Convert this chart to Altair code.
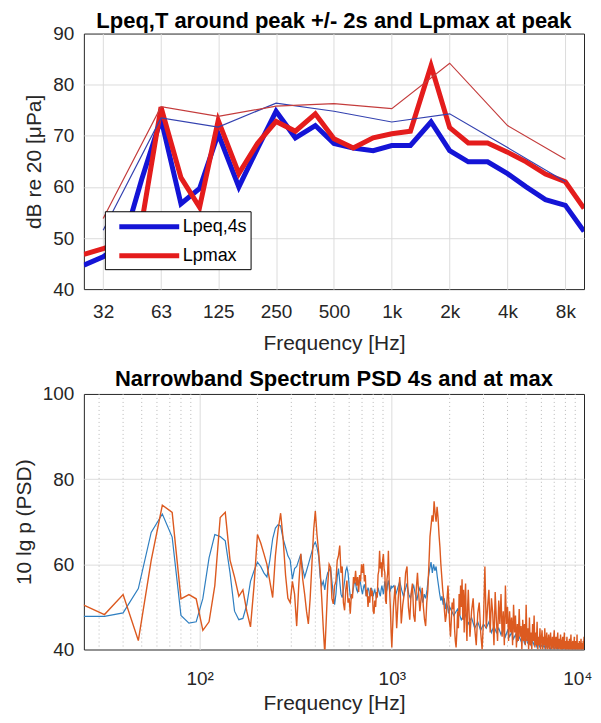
import altair as alt
import pandas as pd

FONT = "Liberation Sans"

# ---------------- top panel data (1/3-octave and octave bands) ----------------
BANDS_13 = [25, 31.5, 40, 50, 63, 80, 100, 125, 160, 200, 250, 315, 400, 500, 630,
            800, 1000, 1250, 1600, 2000, 2500, 3150, 4000, 5000, 6300, 8000, 10000]
LPEQ_13 = [44.7, 46.3, 49.0, 61.5, 73.3, 56.7, 59.7, 70.4, 60.0, 67.5, 74.8, 69.6, 72.0, 68.5,
           67.6, 67.1, 68.1, 68.1, 72.7, 67.1, 64.9, 64.9, 62.6, 60.0, 57.5, 56.4, 51.3]
LPMAX_13 = [46.8, 47.9, 49.5, 53.0, 75.6, 61.8, 56.0, 73.0, 62.6, 68.5, 72.8, 70.9, 74.3, 69.4,
            67.6, 69.6, 70.4, 70.9, 83.7, 71.6, 68.6, 68.6, 66.8, 64.9, 62.5, 61.0, 55.8]
BANDS_OCT = [31.5, 63, 125, 250, 500, 1000, 2000, 4000, 8000]
LPEQ_OCT = [51.5, 73.5, 71.7, 76.4, 74.8, 72.7, 74.3, 67.7, 61.0]
LPMAX_OCT = [53.8, 75.7, 73.8, 75.8, 76.3, 75.3, 84.2, 72.0, 65.4]
TOP_X_TICKS = [31.5, 63, 125, 250, 500, 1000, 2000, 4000, 8000]
TOP_Y_TICKS = [40, 50, 60, 70, 80, 90]
SERIES = ["Lpeq,4s", "Lpmax"]

# ---------------- bottom panel data (narrowband PSD) ----------------
NB_F_LO = list(range(24, 1001, 8))
NB_BLUE_LO = [
    47.8, 47.8, 48.6, 54.3, 67.5, 71.8, 66.4, 48.0, 46.2, 46.5,
    52.0, 61.5, 67.0, 66.5, 65.5, 58.0, 49.0, 47.0, 47.3, 50.5,
    56.0, 58.5, 60.5, 59.5, 58.0, 57.0, 61.0, 66.0, 68.5, 69.3,
    69.0, 66.0, 64.0, 62.0, 61.0, 56.5, 59.0, 59.5, 61.0, 62.4,
    59.0, 57.0, 58.5, 60.0, 61.5, 63.0, 64.5, 65.2, 64.0, 62.0,
    57.0, 55.0, 56.0, 54.0, 56.5, 58.0, 58.5, 59.3, 56.0, 53.0,
    50.5, 53.0, 57.0, 59.0, 56.0, 53.0, 52.2, 54.0, 56.0, 58.5,
    59.3, 58.0, 55.0, 52.5, 52.0, 53.0, 54.5, 56.0, 55.5, 54.0,
    53.5, 55.0, 56.5, 55.5, 54.0, 53.0, 54.5, 55.3, 54.0, 52.5,
    53.5, 54.5, 53.8, 52.5, 53.0, 54.5, 53.5, 52.5, 53.5, 54.0,
    53.0, 52.0, 53.0, 54.5, 53.8, 53.0, 52.5, 54.0, 55.0, 54.0,
    53.0, 54.5, 56.0, 55.0, 53.5, 54.0, 55.5, 56.2, 55.0, 53.5,
    54.0, 55.0, 54.5]
NB_ORANGE_LO = [
    50.8, 48.2, 52.9, 42.1, 60.9, 73.9, 72.2, 51.9, 52.9, 51.9,
    44.5, 46.5, 55.0, 71.0, 72.2, 61.0, 57.0, 52.5, 54.0, 49.0,
    45.3, 55.0, 67.0, 65.0, 62.5, 60.0, 56.0, 52.2, 62.0, 68.0,
    72.0, 66.0, 57.5, 52.0, 51.0, 56.0, 53.0, 45.5, 55.0, 62.5,
    56.5, 53.0, 49.0, 46.0, 52.0, 60.0, 68.0, 72.5, 67.0, 63.0,
    58.5, 52.0, 45.0, 39.0, 47.0, 55.0, 60.0, 59.3, 52.0, 50.7,
    55.0, 56.0, 60.9, 62.0, 64.4, 58.0, 59.5, 51.0, 49.2, 54.0,
    56.2, 51.0, 52.0, 48.4, 53.0, 52.0, 57.0, 55.5, 58.5, 55.0,
    57.0, 53.5, 57.5, 56.0, 60.0, 58.0, 60.1, 56.0, 57.5, 52.5,
    54.0, 50.0, 52.5, 51.0, 54.5, 52.5, 53.8, 49.0, 48.4, 51.5,
    50.0, 53.5, 52.2, 57.5, 58.5, 63.2, 59.0, 60.5, 57.0, 61.0,
    62.4, 59.0, 58.0, 51.5, 50.7, 56.5, 58.0, 63.2, 56.5, 53.0,
    49.2, 44.0, 40.5]

NB_ORANGE_HI_F = list(range(1020, 2501, 20)) + list(range(2550, 10001, 50))
NB_ORANGE_HI = [
    50.0, 55.0, 45.0, 52.0, 57.0, 46.1, 50.5, 53.0, 58.0, 59.5,
    50.0, 47.0, 53.0, 55.5, 48.0, 46.5, 54.0, 58.0, 53.0, 49.0,
    52.0, 54.5, 50.0, 47.0, 45.5, 51.0, 54.0, 60.0, 66.5, 69.0,
    71.5, 70.0, 74.8, 72.0, 70.0, 73.5, 71.0, 67.0, 64.0, 60.0,
    57.0, 54.0, 52.0, 49.0, 46.5, 48.0, 52.0, 55.0, 51.0, 46.0,
    43.0, 47.0, 51.0, 49.5, 52.0, 45.0, 42.0, 40.5, 44.0, 49.0,
    45.0, 53.0, 48.0, 55.0, 50.0, 56.5, 47.0, 54.0, 44.0, 52.0,
    55.5, 46.0, 42.0, 50.0, 54.0,
    43.0, 49.0, 52.0, 45.0, 41.0, 48.5, 51.0, 44.0, 40.0, 47.0,
    59.5, 45.0, 50.0, 54.0, 44.0, 52.0, 48.5, 41.0, 53.5, 47.0,
    42.0, 51.5, 46.0, 53.0, 43.0, 49.0, 41.0, 55.0, 46.0, 50.0,
    42.0, 49.0, 44.0, 47.5, 41.0, 50.5, 44.0, 48.0, 40.5, 46.0,
    42.0, 49.5, 43.0, 45.5, 40.0, 47.0, 42.0, 46.0, 41.0, 50.5,
    42.0, 45.0, 40.0, 47.5, 41.0, 44.0, 40.0, 46.0, 42.0, 48.0,
    40.5, 44.0, 41.0, 46.5, 40.0, 43.0, 41.0, 45.0, 40.0, 42.5,
    44.5, 40.0, 43.0, 41.0, 45.0, 40.0, 42.0, 44.0, 40.0, 41.5,
    43.5, 40.0, 42.0, 44.0, 40.0, 41.0, 43.0, 40.0, 42.5, 44.5,
    40.0, 41.5, 43.0, 40.0, 42.0, 44.0, 40.0, 41.0, 42.5, 40.0,
    43.5, 41.0, 39.0, 42.0, 43.0, 40.0, 41.5, 44.0, 40.0, 42.0,
    39.0, 41.0, 43.0, 40.0, 42.0, 39.0, 40.5, 42.5, 39.0, 41.0,
    43.5, 40.0, 39.0, 41.5, 42.0, 39.0, 40.5, 43.0, 39.0, 41.0,
    42.0, 39.0, 40.5, 43.5, 39.0, 40.0, 41.5, 39.0, 42.0, 40.0,
    39.0, 41.0, 42.5, 39.0, 40.0, 41.5, 39.0, 42.0, 40.0, 43.0]

NB_BLUE_HI_F = list(range(1025, 2001, 25)) + list(range(2100, 10001, 100))
NB_BLUE_HI = [
    55.0, 53.0, 54.5, 56.0, 54.0, 52.5, 54.0, 55.5, 53.0, 52.0,
    54.0, 55.0, 53.0, 51.5, 53.5, 54.5, 52.5, 51.0, 53.0, 52.0,
    54.0, 57.0, 59.0, 60.5, 58.0, 60.0, 58.5, 59.5, 57.0, 55.0,
    53.0, 51.5, 52.5, 50.5, 52.0, 49.5, 51.0, 50.0, 48.5, 50.0,
    48.0, 49.5, 47.0, 48.5, 46.0, 47.5, 45.0, 46.5, 44.5, 46.0,
    45.0, 46.5, 44.0, 45.5, 44.0, 45.0, 43.5, 45.0, 43.0, 44.5,
    43.0, 44.0, 42.5, 43.5, 42.0, 43.0, 42.0, 43.0, 41.5, 42.5,
    41.5, 42.0, 41.0, 42.0, 41.0, 41.5, 40.5, 41.5, 40.5, 41.0,
    40.5, 41.0, 40.0, 41.0, 40.5, 41.0, 40.0, 40.5, 41.0, 40.0,
    40.5, 41.0, 40.0, 41.0, 40.5, 41.0, 40.0, 40.5, 41.0, 40.0,
    40.5, 41.0, 40.0, 41.0, 40.5, 41.0, 40.0, 40.5, 41.0, 40.0,
    40.5, 41.0, 40.0, 41.0, 40.5, 41.0, 40.0, 40.5, 41.0, 40.0]

NB_X_TICKS = [100, 1000, 10000]
NB_Y_TICKS = [40, 60, 80, 100]
NB_MINOR = [30, 40, 50, 60, 70, 80, 90, 200, 300, 400, 500, 600, 700, 800, 900,
            2000, 3000, 4000, 5000, 6000, 7000, 8000, 9000]

# ---------------- colours ----------------
C_BLUE = "#1414d6"
C_RED = "#e41c1c"
C_BLUE_THIN = "#3442b0"
C_RED_THIN = "#c43c3c"
C_NB_BLUE = "#2f7fc1"
C_NB_ORANGE = "#dc5a20"

W, H = 501, 256

# ---------------- frames ----------------
df13 = pd.DataFrame({
    "f": BANDS_13 + BANDS_13,
    "L": LPEQ_13 + LPMAX_13,
    "series": [SERIES[0]] * len(BANDS_13) + [SERIES[1]] * len(BANDS_13),
})
df_oct_eq = pd.DataFrame({"f": BANDS_OCT, "L": LPEQ_OCT})
df_oct_max = pd.DataFrame({"f": BANDS_OCT, "L": LPMAX_OCT})

df_blue = pd.DataFrame({"f": NB_F_LO + NB_BLUE_HI_F, "L": NB_BLUE_LO + NB_BLUE_HI})
df_orange = pd.DataFrame({"f": NB_F_LO + NB_ORANGE_HI_F, "L": NB_ORANGE_LO + NB_ORANGE_HI})
df_minor = pd.DataFrame({"f": NB_MINOR})

GRID = "#dcdcdc"

# ---------------- top chart ----------------
x_top = alt.X(
    "f:Q",
    scale=alt.Scale(type="log", domain=[25, 10000], nice=False),
    axis=alt.Axis(
        values=TOP_X_TICKS,
        labelExpr="datum.value == 31.5 ? '32' : (datum.value >= 1000 ? (datum.value / 1000) + 'k' : '' + datum.value)",
        title="Frequency [Hz]",
        grid=True, gridColor=GRID,
        labelPadding=13, titlePadding=11,
        labelOverlap=False, labelFlush=False,
    ),
)
y_top = alt.Y(
    "L:Q",
    scale=alt.Scale(domain=[40, 90], nice=False),
    axis=alt.Axis(
        values=TOP_Y_TICKS,
        title="dB re 20 [μPa]",
        grid=True, gridColor=GRID,
        gridOpacity={"condition": {"test": "datum.value <= 40 || datum.value >= 90", "value": 0}, "value": 1},
        labelPadding=10, titlePadding=8,
    ),
)

thick = alt.Chart(df13).mark_line(strokeWidth=5, clip=True).encode(
    x=x_top,
    y=y_top,
    color=alt.Color(
        "series:N",
        scale=alt.Scale(domain=SERIES, range=[C_BLUE, C_RED]),
        legend=alt.Legend(
            title=None, orient="none", legendX=21, legendY=178,
            fillColor="white", strokeColor="black", padding=3,
            symbolType="M-3,0H3", symbolSize=400, symbolStrokeWidth=5,
            symbolOffset=29, labelOffset=21, labelFontSize=18, labelFont=FONT,
            labelColor="black", rowPadding=6,
        ),
    ),
)
thin_eq = alt.Chart(df_oct_eq).mark_line(strokeWidth=1.2, color=C_BLUE_THIN, clip=True).encode(x=x_top, y=y_top)
thin_max = alt.Chart(df_oct_max).mark_line(strokeWidth=1.2, color=C_RED_THIN, clip=True).encode(x=x_top, y=y_top)

top = alt.layer(thick, thin_eq, thin_max).properties(
    width=W, height=H,
    title=alt.TitleParams("Lpeq,T around peak +/- 2s and Lpmax at peak", frame="group", offset=-8),
)

# ---------------- bottom chart ----------------
x_nb = alt.X(
    "f:Q",
    scale=alt.Scale(type="log", domain=[25, 10000], nice=False),
    axis=alt.Axis(
        values=NB_X_TICKS,
        labelExpr="datum.value == 100 ? '10²' : (datum.value == 1000 ? '10³' : '10⁴')",
        title="Frequency [Hz]",
        grid=True, gridColor=GRID,
        gridOpacity={"condition": {"test": "datum.value >= 10000", "value": 0}, "value": 1},
        labelPadding=20, titlePadding=4,
        labelOverlap=False, labelFlush=True, labelFlushOffset=8,
    ),
)
y_nb = alt.Y(
    "L:Q",
    scale=alt.Scale(domain=[40, 100], nice=False),
    axis=alt.Axis(
        values=NB_Y_TICKS,
        title="10 lg p (PSD)",
        grid=True, gridColor=GRID,
        gridOpacity={"condition": {"test": "datum.value <= 40 || datum.value >= 100", "value": 0}, "value": 1},
        labelPadding=10, titlePadding=8,
    ),
)

minor = alt.Chart(df_minor).mark_rule(color="#b8b8b8", strokeWidth=1, strokeDash=[1, 3]).encode(x=x_nb)
nb_blue = alt.Chart(df_blue).mark_line(strokeWidth=1.2, color=C_NB_BLUE, clip=True).encode(x=x_nb, y=y_nb)
nb_orange = alt.Chart(df_orange).mark_line(strokeWidth=1.4, color=C_NB_ORANGE, clip=True).encode(x=x_nb, y=y_nb)

bottom = alt.layer(minor, nb_blue, nb_orange).properties(
    width=W, height=H,
    title=alt.TitleParams("Narrowband Spectrum PSD 4s and at max", frame="group", offset=-6),
)

chart = alt.vconcat(top, bottom, spacing=13).properties(
    padding={"left": 4, "right": 0, "top": 0, "bottom": 0},
).configure(font=FONT).configure_view(
    stroke="#262626", strokeWidth=1,
).configure_axis(
    labelFont=FONT, titleFont=FONT, labelFontSize=19, titleFontSize=21,
    labelColor="#262626", titleColor="#262626", titleFontWeight="normal",
    ticks=False, domain=False,
).configure_title(
    font=FONT, fontSize=22, fontWeight="bold", color="black", anchor="middle",
)

chart.save("out.html", embed_options={"renderer": "svg", "actions": False})
